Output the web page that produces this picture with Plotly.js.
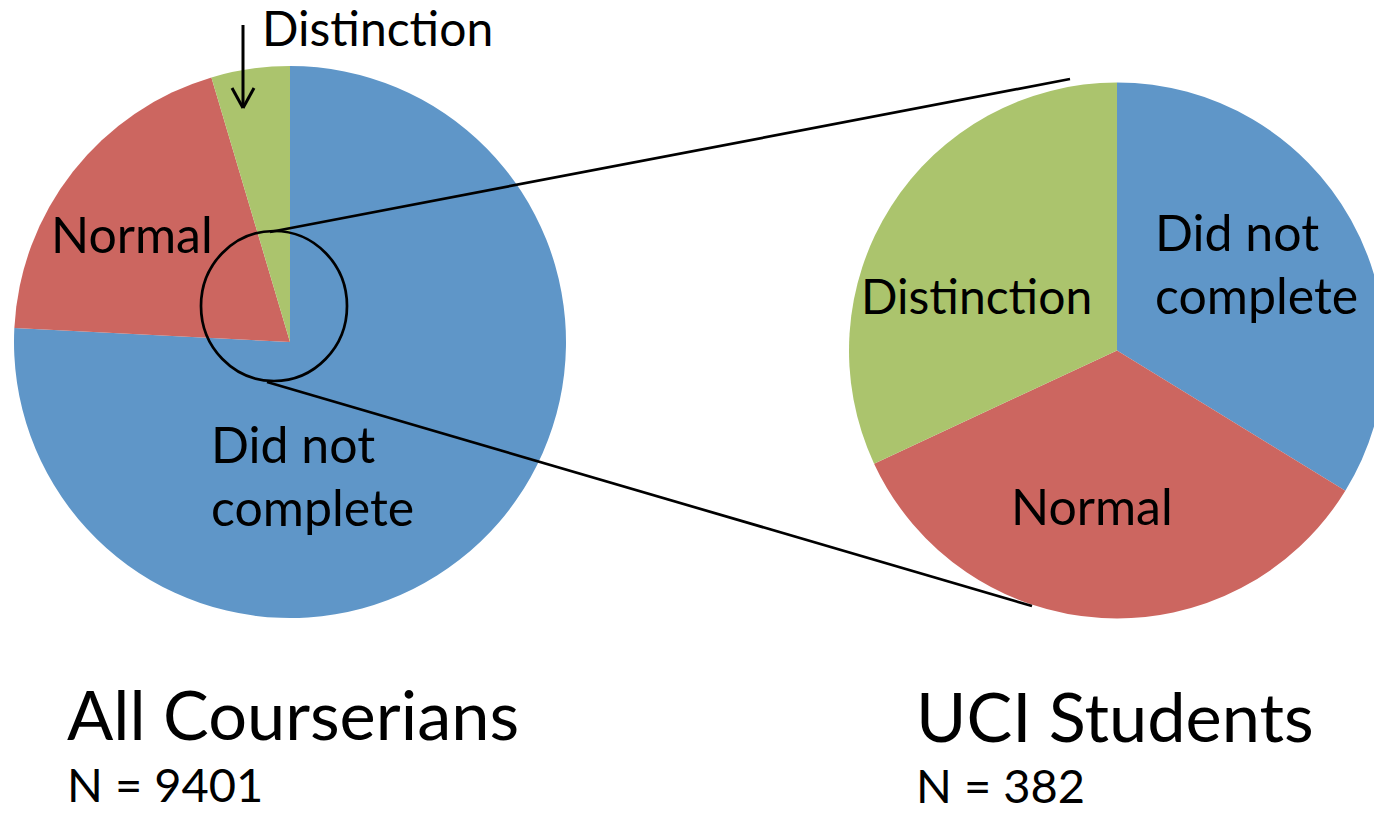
<!DOCTYPE html>
<html>
<head>
<meta charset="utf-8">
<script src="https://cdn.plot.ly/plotly-3.0.1.min.js"></script>
<style>
html,body{margin:0;padding:0;overflow:hidden;background:#fff;}
#chart{width:1400px;height:813px;}
</style>
</head>
<body>
<div id="chart"></div>
<script>
// ---- data ----
const groups = ['All Courserians', 'UCI Students'];
const categories = ['Did not complete', 'Normal', 'Distinction'];
const allValues = [7126, 1843, 432];
const uciValues = [129, 131, 122];
const nLabels = ['N = 9401', 'N = 382'];
const colors = ['#5f96c8', '#cc6660', '#abc46d'];

// ---- layout helpers (pixel -> paper) ----
const W = 1400, H = 813;
const px = v => v / W;
const py = v => 1 - v / H;
const FONT = 'Lato, "Open Sans", sans-serif';

function pieTrace(values, cx, cy, r, name) {
  return {
    type: 'pie',
    name: name,
    labels: categories,
    values: values,
    sort: false,
    direction: 'clockwise',
    rotation: 0,
    textinfo: 'none',
    hoverinfo: 'label+value+percent',
    marker: {colors: colors, line: {width: 0}},
    showlegend: false,
    domain: {x: [px(cx - r), px(cx + r)], y: [py(cy + r), py(cy - r)]}
  };
}

const data = [
  pieTrace(allValues, 290, 342, 276, groups[0]),
  pieTrace(uciValues, 1117, 350.5, 268, groups[1])
];

function label(text, x, y, size) {
  return {
    text: text, xref: 'paper', yref: 'paper',
    x: px(x - 3), y: py(y), xanchor: 'left', yanchor: 'middle',
    showarrow: false, font: {family: FONT, size: size, color: '#000'}
  };
}

const LS = 50, DS = 48, NS = 47, TS = 68.5;
const annotations = [
  label(categories[2], 263, 28, DS),
  label(categories[1], 52, 234, LS),
  label('Did not', 212, 444, LS),
  label('complete', 212, 507, LS),
  label('Did not', 1156, 232, LS),
  label('complete', 1156, 295, LS),
  label(categories[2], 862, 295, DS),
  label(categories[1], 1012, 506, LS),
  label(groups[0], 68, 713, TS),
  label(nLabels[0], 68, 784, NS),
  label(groups[1], 917, 715, TS),
  label(nLabels[1], 917, 785, NS)
];

const LW = 2.7;
const shapes = [
  // magnifier circle
  {type: 'circle', xref: 'paper', yref: 'paper',
   x0: px(201), x1: px(347), y0: py(381), y1: py(231),
   line: {color: '#000', width: LW}},
  // connector lines
  {type: 'line', xref: 'paper', yref: 'paper',
   x0: px(270), y0: py(232), x1: px(1070), y1: py(79),
   line: {color: '#000', width: LW}},
  {type: 'line', xref: 'paper', yref: 'paper',
   x0: px(267), y0: py(382), x1: px(1032), y1: py(606),
   line: {color: '#000', width: LW}},
  // arrow pointing at Distinction slice
  {type: 'line', xref: 'paper', yref: 'paper',
   x0: px(243), y0: py(25), x1: px(243), y1: py(107),
   line: {color: '#000', width: 3}},
  {type: 'line', xref: 'paper', yref: 'paper',
   x0: px(232), y0: py(88), x1: px(243), y1: py(108),
   line: {color: '#000', width: 3}},
  {type: 'line', xref: 'paper', yref: 'paper',
   x0: px(254), y0: py(88), x1: px(243), y1: py(108),
   line: {color: '#000', width: 3}}
];

const layout = {
  width: W, height: H,
  margin: {l: 0, r: 0, t: 0, b: 0},
  paper_bgcolor: '#fff',
  plot_bgcolor: '#fff',
  showlegend: false,
  annotations: annotations,
  shapes: shapes,
  font: {family: FONT}
};

Plotly.newPlot('chart', data, layout, {displayModeBar: false, staticPlot: true});
</script>
</body>
</html>
